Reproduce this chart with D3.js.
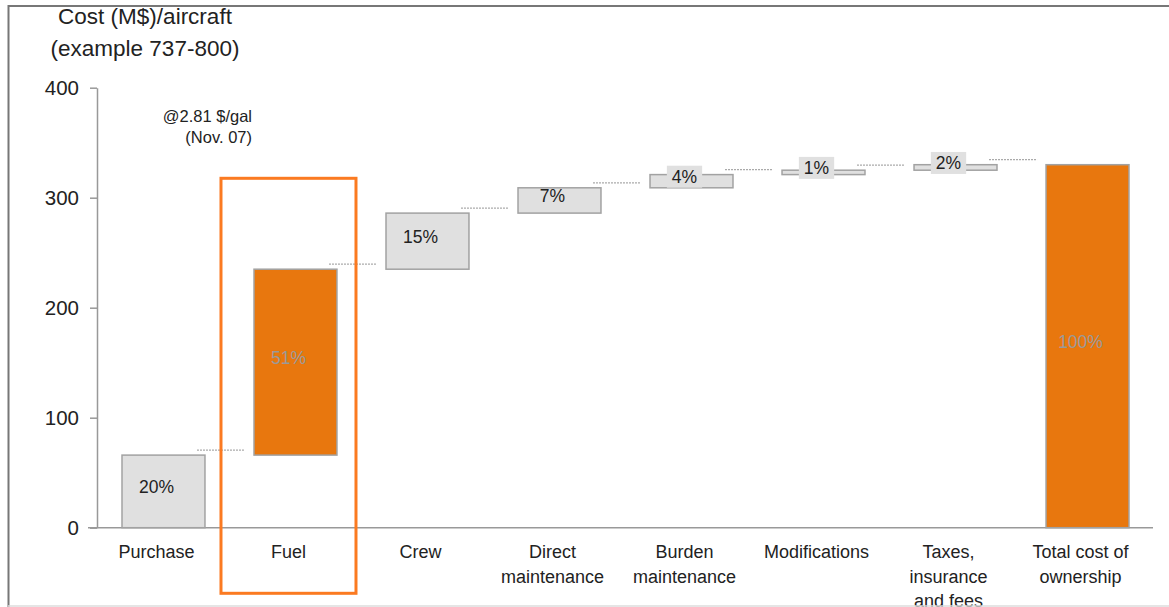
<!DOCTYPE html>
<html>
<head>
<meta charset="utf-8">
<script src="https://cdn.jsdelivr.net/npm/d3@7"></script>
<style>
  html, body { margin: 0; padding: 0; background: #fff; overflow: hidden; }
  svg { display: block; font-family: "Liberation Sans", Arial, sans-serif; }
</style>
</head>
<body>
<script>
// Cost build-up per aircraft, M$ (waterfall)
const categories = [
  "Purchase",
  "Fuel",
  "Crew",
  "Direct\nmaintenance",
  "Burden\nmaintenance",
  "Modifications",
  "Taxes,\ninsurance\nand fees",
  "Total cost of\nownership"
];
// Increment contributed by each cost element (the last category is the total)
const increments = [66, 169, 51, 23, 12, 4, 5];
const yTicks = [0, 100, 200, 300, 400];
const highlightCategory = "Fuel";
const titleLines = ["Cost (M$)/aircraft", "(example 737-800)"];
const noteLines = ["@2.81 $/gal", "(Nov. 07)"];

const W = 1169, H = 607;
const GREY_FILL = "#e0e0e0", BAR_STROKE = "#a2a2a2", ORANGE = "#e8770e";

const svg = d3.select("body").append("svg")
  .attr("width", W).attr("height", H);

const y = d3.scaleLinear().domain([0, 400]).range([527.7, 87.7]);
const x = d3.scaleBand().domain(categories)
  .range([89, 1162]).paddingInner(0.3715).paddingOuter(0.25);
const bw = x.bandwidth();

// Running totals for the floating bars
const total = d3.sum(increments);
let run = 0;
const bars = categories.map((c, i) => {
  if (i < increments.length) {
    const b = { cat: c, start: run, end: run + increments[i], value: increments[i], total: false };
    run += increments[i];
    return b;
  }
  return { cat: c, start: 0, end: total, value: total, total: true };
});
const isOrange = d => d.total || d.cat === highlightCategory;
const labelX = c => x(c) + bw / 2 - 7;

// Title
svg.append("g").selectAll("text").data(titleLines).join("text")
  .attr("x", 145).attr("y", (d, i) => 23.5 + i * 32.5)
  .attr("text-anchor", "middle").attr("font-size", 22.5).attr("fill", "#222")
  .text(d => d);

// Fuel price note
svg.append("g").selectAll("text").data(noteLines).join("text")
  .attr("x", 252).attr("y", (d, i) => 122 + i * 21)
  .attr("text-anchor", "end").attr("font-size", 16.5).attr("fill", "#222")
  .text(d => d);

// Y axis
const yAxis = svg.append("g").attr("transform", "translate(97,0)")
  .call(d3.axisLeft(y).tickValues(yTicks).tickSize(7).tickSizeOuter(0).tickPadding(11));
yAxis.select(".domain").attr("stroke", "#999").attr("stroke-width", 1.5);
yAxis.selectAll(".tick line").attr("stroke", "#999").attr("stroke-width", 1.5);
yAxis.selectAll(".tick text").attr("font-size", 20.5).attr("fill", "#222")
  .attr("font-family", "Liberation Sans, Arial, sans-serif");

// Baseline
svg.append("line")
  .attr("x1", 88).attr("x2", 1153).attr("y1", y(0)).attr("y2", y(0))
  .attr("stroke", "#999").attr("stroke-width", 1.5);

// Connectors between consecutive bars
svg.append("g").selectAll("line").data(bars.slice(0, -1)).join("line")
  .attr("x1", (d, i) => x(d.cat) + bw - 8)
  .attr("x2", (d, i) => x(categories[i + 1]) - 9)
  .attr("y1", d => y(d.end) - 5).attr("y2", d => y(d.end) - 5)
  .attr("stroke", "#aaa").attr("stroke-width", 1.2)
  .attr("stroke-dasharray", "2,1");

// Bars
svg.append("g").selectAll("rect").data(bars).join("rect")
  .attr("x", d => x(d.cat)).attr("width", bw)
  .attr("y", d => y(d.end)).attr("height", d => y(d.start) - y(d.end))
  .attr("fill", d => isOrange(d) ? ORANGE : GREY_FILL)
  .attr("stroke", BAR_STROKE).attr("stroke-width", 1.5);

// Share labels
const lab = svg.append("g").selectAll("g").data(bars).join("g")
  .attr("transform", d => `translate(${labelX(d.cat)},${(y(d.start) + y(d.end)) / 2 - 4.5})`);
lab.each(function (d) {
  const g = d3.select(this);
  const small = (y(d.start) - y(d.end)) < 20;
  const t = g.append("text")
    .attr("text-anchor", "middle").attr("dominant-baseline", "central")
    .attr("font-size", 17.5)
    .attr("fill", isOrange(d) ? "#9a9a9a" : "#222")
    .text(Math.round(d.value / total * 100) + "%");
  if (small) {
    const bb = t.node().getBBox();
    g.insert("rect", "text")
      .attr("x", -bb.width / 2 - 5).attr("y", -11)
      .attr("width", bb.width + 10).attr("height", 22)
      .attr("fill", GREY_FILL);
  }
});

// Highlight frame around the fuel column
svg.append("rect")
  .attr("x", labelX(highlightCategory) - 67.5).attr("y", 178.3)
  .attr("width", 135).attr("height", 415)
  .attr("fill", "none").attr("stroke", "#fb7a21").attr("stroke-width", 3);

// Category labels
svg.append("g").selectAll("text").data(categories).join("text")
  .attr("x", d => labelX(d)).attr("y", 558)
  .attr("text-anchor", "middle").attr("font-size", 18).attr("fill", "#222")
  .each(function (d) {
    d3.select(this).selectAll("tspan").data(d.split("\n")).join("tspan")
      .attr("x", labelX(d)).attr("dy", (s, i) => i === 0 ? 0 : 24.5)
      .text(s => s);
  });

// Page frame
svg.append("line").attr("x1", 8.5).attr("x2", 8.5).attr("y1", 5).attr("y2", H)
  .attr("stroke", "#777").attr("stroke-width", 2);
svg.append("line").attr("x1", 8).attr("x2", W).attr("y1", 6).attr("y2", 6)
  .attr("stroke", "#777").attr("stroke-width", 2);
svg.append("line").attr("x1", 8).attr("x2", W).attr("y1", 606).attr("y2", 606)
  .attr("stroke", "#ddd").attr("stroke-width", 1.5);
</script>
</body>
</html>
